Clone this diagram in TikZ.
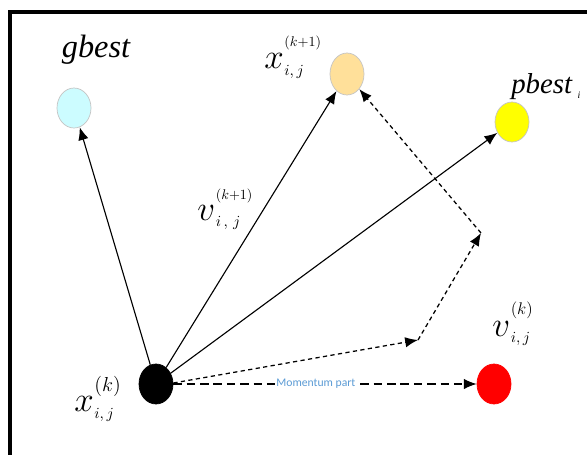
\documentclass[tikz,border=0pt]{standalone}
\usepackage{amsmath}
\usepackage{fontspec}
\setmainfont{Liberation Serif}
\newfontfamily\calfont{Carlito}
\usetikzlibrary{arrows.meta,positioning,shapes.geometric}
\definecolor{gcyan}{HTML}{CCFCFF}
\definecolor{peach}{HTML}{FFE09A}
\definecolor{pyell}{HTML}{FFFF00}
\definecolor{vred}{HTML}{FF0000}
\definecolor{rim}{HTML}{C4C4C4}
\definecolor{note}{HTML}{5B9BD5}
% symbol with raised index (size #5) and lowered subscript
\newcommand{\pvar}[5]{$#1$\kern0.5pt\makebox[0pt][l]{\raisebox{#4}{\fontsize{#5}{#5}\selectfont$#2$}}%
  \raisebox{-0.2em}{\fontsize{11}{12}\selectfont$#3$}}
\tikzset{
  particle/.style={ellipse, draw=rim, line width=0.5pt, minimum width=0.85cm,
                   minimum height=1.0cm, inner sep=0pt},
  arrow/.style={-{Latex[length=3.2mm,width=2.6mm]}, line width=0.8pt, draw=black},
  dasharrow/.style={arrow, line width=0.9pt, dash pattern=on 3pt off 2.4pt},
  longdash/.style={arrow, dash pattern=on 6pt off 3.5pt},
  lab/.style={inner sep=0pt, font=\fontsize{28}{30}\selectfont}
}

\begin{document}
\begin{tikzpicture}[x=0.025cm,y=-0.025cm]
        \useasboundingbox (0,0) rectangle (587,455);
        % frame
        \draw[line width=2.8pt] (10,455) -- (10,12) -- (587,12);

        % particles
        \node[particle,fill=black,draw=black] (xk) at (156,384) {};
        \node[particle,fill=gcyan] (gbest) at (74,108) {};
        \node[particle,fill=peach,minimum height=1.05cm] (xnew) at (347,74) {};
        \node[particle,fill=pyell] (pbest) at (512,122) {};
        \node[particle,fill=vred,draw=vred] (vold) at (494,384) {};

        % labels
        \node[lab,font=\fontsize{23}{25}\selectfont\itshape] (lgbest) at (96,50) {gbest};
        \node[lab,anchor=base west] (lxnew) at (264,68) {\pvar{x}{(k{+}1)}{i,j}{0.55em}{10}};
        \node[lab,font=\fontsize{20.5}{22}\selectfont,anchor=base west] (lpbest) at (511,93) {\textit{pbest}\,{\fontsize{7}{8}\selectfont\raisebox{-4pt}{\textit{i}}}};
        \node[lab,font=\fontsize{24}{26}\selectfont,anchor=base west] (lvnew) at (197,220) {\pvar{v}{(k{+}1)}{i\,,\,j}{0.6em}{10}};
        \node[lab,font=\fontsize{24}{26}\selectfont,anchor=base west] (lvold) at (492,336) {\pvar{v}{(k)}{i,j}{0.65em}{12}};
        \node[lab,anchor=base west] (lxk) at (74,411) {\pvar{x}{(k)}{i,j}{0.5em}{14}};

        % velocity arrows
        \draw[arrow] (xk) -- (gbest);
        \draw[arrow] (xk) -- (xnew);
        \draw[arrow] (xk) -- (pbest);

        % dashed route to the new position
        \coordinate (c1) at (418,340);
        \coordinate (c2) at (481,233);
        \draw[dasharrow] (xk.east) ++(0,-1) -- (c1);
        \draw[dasharrow] (c1) -- (c2);
        \draw[dasharrow] (c2) -- (xnew.south east);

        % momentum
        \draw[longdash] (xk) -- node[pos=0.47,fill=white,inner sep=0.5pt,text=note,font=\calfont\fontsize{8.3}{9}\selectfont] (mom) {Momentum part} (vold);
      \end{tikzpicture}
\end{document}
